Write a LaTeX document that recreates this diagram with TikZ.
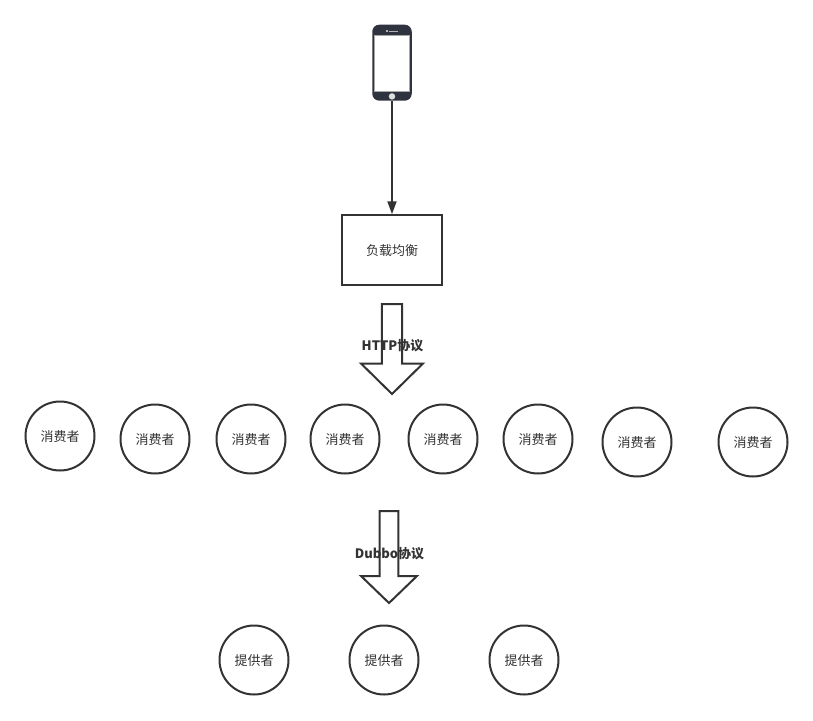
\documentclass[tikz,border=0pt]{standalone}
\usepackage{fontspec}
\setmainfont{Noto Sans CJK SC}
\usetikzlibrary{arrows.meta}
\definecolor{ink}{HTML}{333333}
\definecolor{phonebody}{HTML}{2F3340}
\newcommand{\lbltxt}[1]{\raisebox{0pt}[11pt][0pt]{#1}}
\tikzset{
  x=1pt,y=-1pt,
  person/.style={draw=ink,line width=2pt,circle,minimum size=69pt,inner sep=0pt,text=ink,font=\fontsize{13}{15}\selectfont,fill=white},
  lb/.style={draw=ink,line width=2pt,minimum width=100pt,minimum height=69.5pt,inner sep=0pt,text=ink,font=\fontsize{13}{15}\selectfont},
  blockarrow/.style={draw=ink,line width=2pt,fill=white,line join=miter},
  proto/.style={text=ink,font=\fontsize{13}{15}\selectfont\bfseries,inner sep=0pt},
  link/.style={draw=ink,line width=2pt,-{Triangle[length=13pt,width=9pt]}},
}
\begin{document}
\begin{tikzpicture}
\useasboundingbox (0,0) rectangle (813,720);
% phone
\node[draw=none,fill=phonebody,rounded corners=7pt,minimum width=39.5pt,minimum height=76pt,inner sep=0pt] (phone) at (392,62.7) {};
\fill[white,draw=gray!70,line width=.5pt] (374.6,35.7) rectangle (409.4,91.3);
\fill[gray!60] (386,30.3) rectangle (387.8,32);
\fill[gray!60] (389,30.5) rectangle (398,32);
\fill[gray!25] (392,96.4) circle (3.2);
% balancer
\node[lb] (balance) at (392,250) {\lbltxt{负载均衡}};
\draw[link] (phone.south) -- (balance.north);
% http arrow
\draw[blockarrow] (381.8,304) -- (402,304) -- (402,363.5) -- (423,363.5) -- (392,394) -- (361,363.5) -- (381.8,363.5) -- cycle;
\node[proto] (http) at (392.5,346) {HTTP协议};
% consumers
\node[person] (c1) at (60,436) {\lbltxt{消费者}};
\node[person] (c2) at (155,439) {\lbltxt{消费者}};
\node[person] (c3) at (251,439) {\lbltxt{消费者}};
\node[person] (c4) at (345,439) {\lbltxt{消费者}};
\node[person] (c5) at (443,439) {\lbltxt{消费者}};
\node[person] (c6) at (538,439) {\lbltxt{消费者}};
\node[person] (c7) at (637,442) {\lbltxt{消费者}};
\node[person] (c8) at (753,442) {\lbltxt{消费者}};
% dubbo arrow
\draw[blockarrow] (379.5,511) -- (398.3,511) -- (398.3,576) -- (417,576) -- (389,603) -- (361,576) -- (379.5,576) -- cycle;
\node[proto] (dubbo) at (389.5,554) {Dubbo协议};
% providers
\node[person] (p1) at (254,660) {\lbltxt{提供者}};
\node[person] (p2) at (384,660) {\lbltxt{提供者}};
\node[person] (p3) at (524,660) {\lbltxt{提供者}};
\end{tikzpicture}
\end{document}
